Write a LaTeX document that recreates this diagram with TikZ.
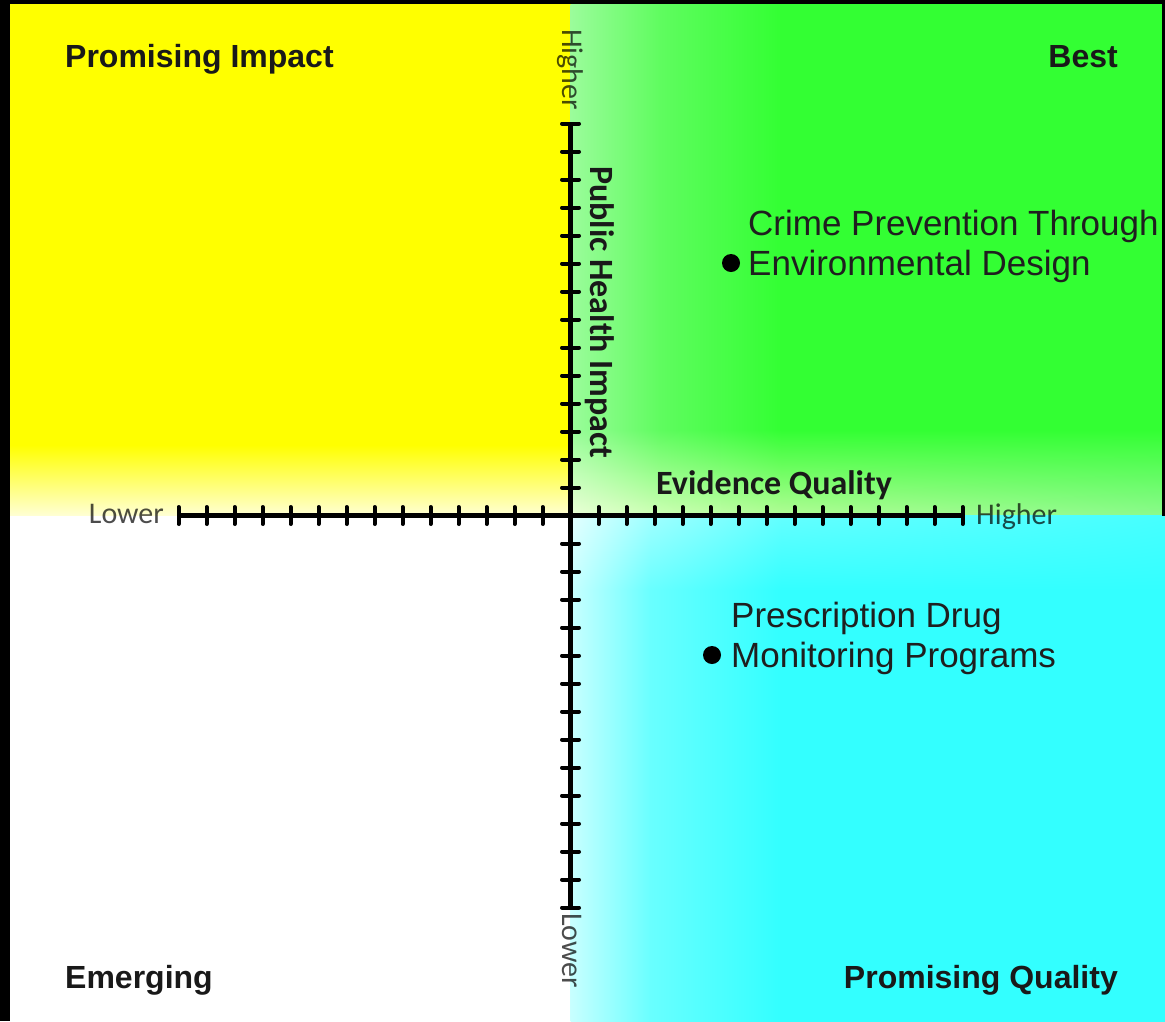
\documentclass[tikz,border=0pt]{standalone}
\usepackage{fontspec}
\usetikzlibrary{shadings}
\setmainfont{Liberation Sans}
\newfontfamily\calfont{Carlito}
\definecolor{qY}{RGB}{255,255,0}
\definecolor{qYpale}{RGB}{255,255,212}
\definecolor{qG}{RGB}{51,255,51}
\definecolor{qGL}{RGB}{155,252,155}
\definecolor{qGM}{RGB}{95,252,95}
\definecolor{qGBa}{RGB}{178,252,150}
\definecolor{qGBb}{RGB}{140,250,140}
\definecolor{qGBm}{RGB}{205,255,180}
\definecolor{qGC}{RGB}{235,255,215}
\definecolor{qC}{RGB}{51,255,255}
\definecolor{qCL}{RGB}{200,255,255}
\definecolor{qCM}{RGB}{105,255,255}
\definecolor{qCTa}{RGB}{100,255,255}
\definecolor{qCTb}{RGB}{70,255,255}
\definecolor{qCTm}{RGB}{160,255,255}
\definecolor{qCC}{RGB}{228,255,255}
\begin{document}
\begin{tikzpicture}[x=1pt,y=-1pt,
  axisline/.style={line width=4.2pt, black},
  tickmark/.style={line width=4pt, black, line cap=round},
  quadlbl/.style={font=\fontsize{32}{38}\selectfont\bfseries, inner sep=0pt, text=black!90},
  itemlbl/.style={font=\fontsize{35}{40}\selectfont, inner sep=0pt, text=black!88},
  axtitle/.style={font=\calfont\bfseries\fontsize{34}{40}\selectfont, inner sep=0pt, text=black!90},
  endlbl/.style={font=\calfont\fontsize{30}{36}\selectfont, inner sep=0pt, text=black, text opacity=0.7},
  dotmark/.style={circle, fill=black, minimum size=18pt, inner sep=0pt}
]
\useasboundingbox (0,0) rectangle (1165,1021);
\fill[black] (0,0) rectangle (1165,1021);
% bottom-left (white)
\fill[white] (10,515.5) rectangle (570.5,1025);
% top-left (yellow)
\fill[qY] (10,4) rectangle (570.5,446);
\shade[top color=qY, bottom color=qYpale] (10,445) rectangle (570.5,515.5);
% top-right (green)
\fill[qG] (780,4) rectangle (1162,431);
\shade[left color=qGL, right color=qGM] (570.5,4) rectangle (661,431);
\shade[left color=qGM, right color=qG] (660,4) rectangle (781,431);
\shade[upper left=qG, upper right=qG, lower left=qGBa, lower right=qGBb] (780,430) rectangle (1162,515.5);
\shade[upper left=qGL, upper right=qGM, lower left=qGC, lower right=qGBm] (570.5,430) rectangle (661,515.5);
\shade[upper left=qGM, upper right=qG, lower left=qGBm, lower right=qGBa] (660,430) rectangle (781,515.5);
% bottom-right (cyan)
\fill[qC] (780,589) rectangle (1168,1025);
\shade[left color=qCL, right color=qCM] (570.5,589) rectangle (651,1025);
\shade[left color=qCM, right color=qC] (650,589) rectangle (781,1025);
\shade[upper left=qCTa, upper right=qCTb, lower left=qC, lower right=qC] (780,515.5) rectangle (1168,590);
\shade[upper left=qCC, upper right=qCTm, lower left=qCL, lower right=qCM] (570.5,515.5) rectangle (651,590);
\shade[upper left=qCTm, upper right=qCTa, lower left=qCM, lower right=qC] (650,515.5) rectangle (781,590);

% axes
\coordinate (xl) at (178.5,515.5);
\coordinate (xr) at (962.5,515.5);
\coordinate (yt) at (570.5,123.5);
\coordinate (yb) at (570.5,907.5);
\draw[axisline] (xl) -- (xr);
\draw[axisline] (yt) -- (yb);
\foreach \i in {-14,...,-1,1,2,...,14} {
  \draw[tickmark] ({570.5+28*\i},507) -- ({570.5+28*\i},524);
  \draw[tickmark] (562,{515.5+28*\i}) -- (579,{515.5+28*\i});
}

% axis labels
\node[endlbl, anchor=base east] (lowx) at (164,523) {Lower};
\node[endlbl, anchor=base west] (highx) at (976,524) {Higher};
\node[endlbl, rotate=-90, anchor=base west] (highy) at (562,29) {Higher};
\node[endlbl, rotate=-90, anchor=base west] (lowy) at (562,913) {Lower};
\node[axtitle, anchor=base west] (evq) at (656,494) {Evidence Quality};
\node[axtitle, rotate=-90, anchor=base west] (phi) at (590,166) {Public Health Impact};

% quadrant labels
\node[quadlbl, anchor=base west] (qpi) at (65,67) {Promising Impact};
\node[quadlbl, anchor=base east] (qbest) at (1118,67) {Best};
\node[quadlbl, anchor=base west] (qem) at (65,988) {Emerging};
\node[quadlbl, anchor=base east] (qpq) at (1118,988) {Promising Quality};

% items
\node[dotmark] (dotA) at (731,263) {};
\node[itemlbl, anchor=base west] (cpA) at (748,235) {Crime Prevention Through};
\node[itemlbl, anchor=base west] (cpB) at (748,275) {Environmental Design};
\node[dotmark] (dotB) at (712,655) {};
\node[itemlbl, anchor=base west] (pdA) at (731,627) {Prescription Drug};
\node[itemlbl, anchor=base west] (pdB) at (731,667) {Monitoring Programs};

% frame over overflow
\fill[black] (1162,0) rectangle (1165,515.5);
\fill[black] (0,0) rectangle (1165,4);
\end{tikzpicture}
\end{document}
